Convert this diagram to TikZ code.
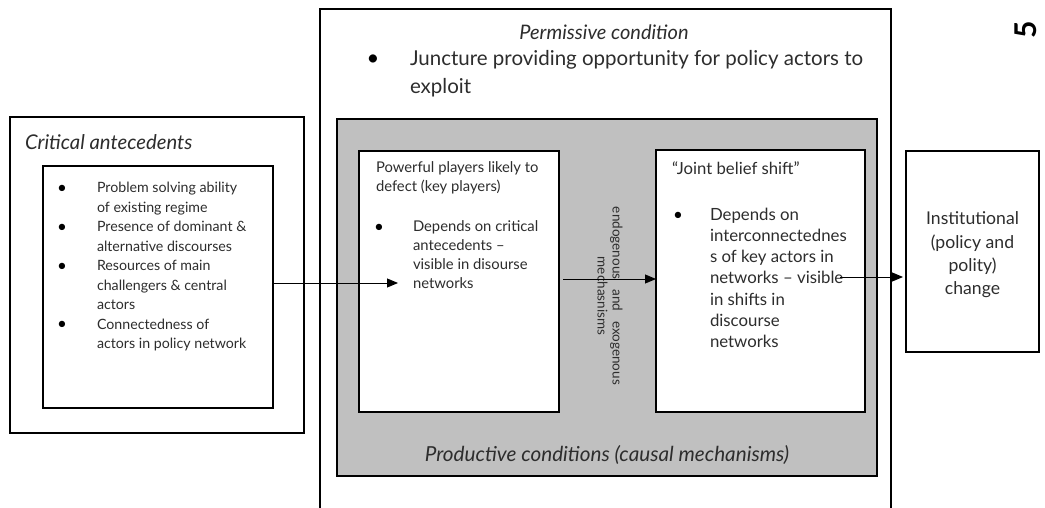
\documentclass[tikz,border=0pt]{standalone}
\usepackage{fontspec}
\setmainfont{Lato}
\usetikzlibrary{arrows.meta}
\definecolor{silverfill}{RGB}{192,192,192}
\definecolor{txt}{RGB}{45,45,45}
\begin{document}
\begin{tikzpicture}[x=1pt,y=-1pt,
  box/.style={draw=black, line width=1.6pt, inner sep=0pt, outer sep=0pt, anchor=north west},
  lbl/.style={inner sep=0pt, outer sep=0pt, text=txt},
  listtxt/.style={lbl, anchor=north west, align=left},
  bul/.style={inner sep=0pt, outer sep=0pt, text=black, font=\fontsize{17}{17}\selectfont},
  arr/.style={-{Triangle[length=11pt,width=9pt]}, line width=0.9pt, black}]
\useasboundingbox (0,0) rectangle (1045,508);
\fill[white] (0,0) rectangle (1045,508);

% permissive condition frame (open at the bottom)
\coordinate (permBL) at (320,515);
\coordinate (permBR) at (891,515);
\draw[line width=1.8pt] (permBL) |- (605.5,9) -| (permBR);

% boxes
\node[box, minimum width=294pt, minimum height=316pt] (crit) at (10,117) {};
\node[box, minimum width=230pt, minimum height=242pt] (critin) at (43,166) {};
\node[box, fill=silverfill, line width=1.8pt, minimum width=540pt, minimum height=357pt] (prod) at (337,119) {};
\node[box, fill=white, minimum width=200pt, minimum height=261pt] (kp) at (359,151) {};
\node[box, fill=white, minimum width=209pt, minimum height=262pt] (jb) at (656,150) {};
\node[box, line width=1.4pt, minimum width=133pt, minimum height=201pt] (inst) at (906,151) {};

% critical antecedents
\node[lbl, anchor=west, font=\fontsize{20.3}{22}\selectfont\itshape] (crittitle) at (25,142) {Critical antecedents};
\begin{scope}[every node/.append style={font=\fontsize{14.2}{19.5}\selectfont}]
\node[bul] (cb1) at (62,189) {•};
\node[listtxt] (ci1) at (97,182.3) {Problem solving ability\\of existing regime};
\node[bul] (cb2) at (62,228) {•};
\node[listtxt] (ci2) at (97,221.3) {Presence of dominant \&\\alternative discourses};
\node[bul] (cb3) at (62,267) {•};
\node[listtxt] (ci3) at (97,260.3) {Resources of main\\challengers \& central\\actors};
\node[bul] (cb4) at (62,325.5) {•};
\node[listtxt] (ci4) at (97,318.8) {Connectedness of\\actors in policy network};
\end{scope}

% permissive condition
\node[lbl, font=\fontsize{20}{22}\selectfont\itshape] (permtitle) at (604,32) {Permissive condition};
\node[bul, font=\fontsize{22}{22}\selectfont] (pb1) at (373,60) {•};
\node[listtxt, font=\fontsize{20.5}{28}\selectfont] (pi1) at (410,50.4) {Juncture providing opportunity for policy actors to\\exploit};

% productive conditions
\node[lbl, font=\fontsize{20.7}{22}\selectfont\itshape] (prodtitle) at (607,455) {Productive conditions (causal mechanisms)};

% key players
\node[listtxt, font=\fontsize{14.8}{19}\selectfont] (kphead) at (376,162) {Powerful players likely to\\defect (key players)};
\node[bul] (kb1) at (379,228) {•};
\node[listtxt, font=\fontsize{14.8}{19}\selectfont] (kpi1) at (413,221) {Depends on critical\\antecedents –\\visible in disourse\\networks};

% joint belief shift
\node[listtxt, font=\fontsize{16.7}{21.2}\selectfont] (jbhead) at (672,162) {“Joint belief shift”};
\node[bul] (jbb1) at (678,216) {•};
\node[listtxt, font=\fontsize{16.8}{21.2}\selectfont] (jbi1) at (710,208) {Depends on\\interconnectednes\\s of key actors in\\networks – visible\\in shifts in\\discourse\\networks};

% outcome
\node[lbl, align=center, font=\fontsize{17.6}{23.3}\selectfont] (insttext) at (972.5,255) {Institutional\\(policy and\\polity)\\change};

% mechanisms label
\node[lbl, align=center, rotate=-90, font=\fontsize{13.5}{15}\selectfont] (mech) at (610,296) {\makebox[178pt][s]{endogenous and exogenous}\\mechasnisms};

\node[lbl, rotate=90, text=black, font=\fontsize{30}{30}\selectfont\bfseries] (pagenum) at (1026,30) {5};

% connectors
\coordinate (a1end) at (398,283);
\draw[arr] (critin.east |- a1end) -- (a1end);
\coordinate (a2start) at (563,279);
\draw[arr] (a2start) -- (jb.west |- a2start);
\coordinate (a3start) at (840,277);
\draw[arr, shorten >=3pt] (a3start) -- (inst.west |- a3start);
\end{tikzpicture}
\end{document}
